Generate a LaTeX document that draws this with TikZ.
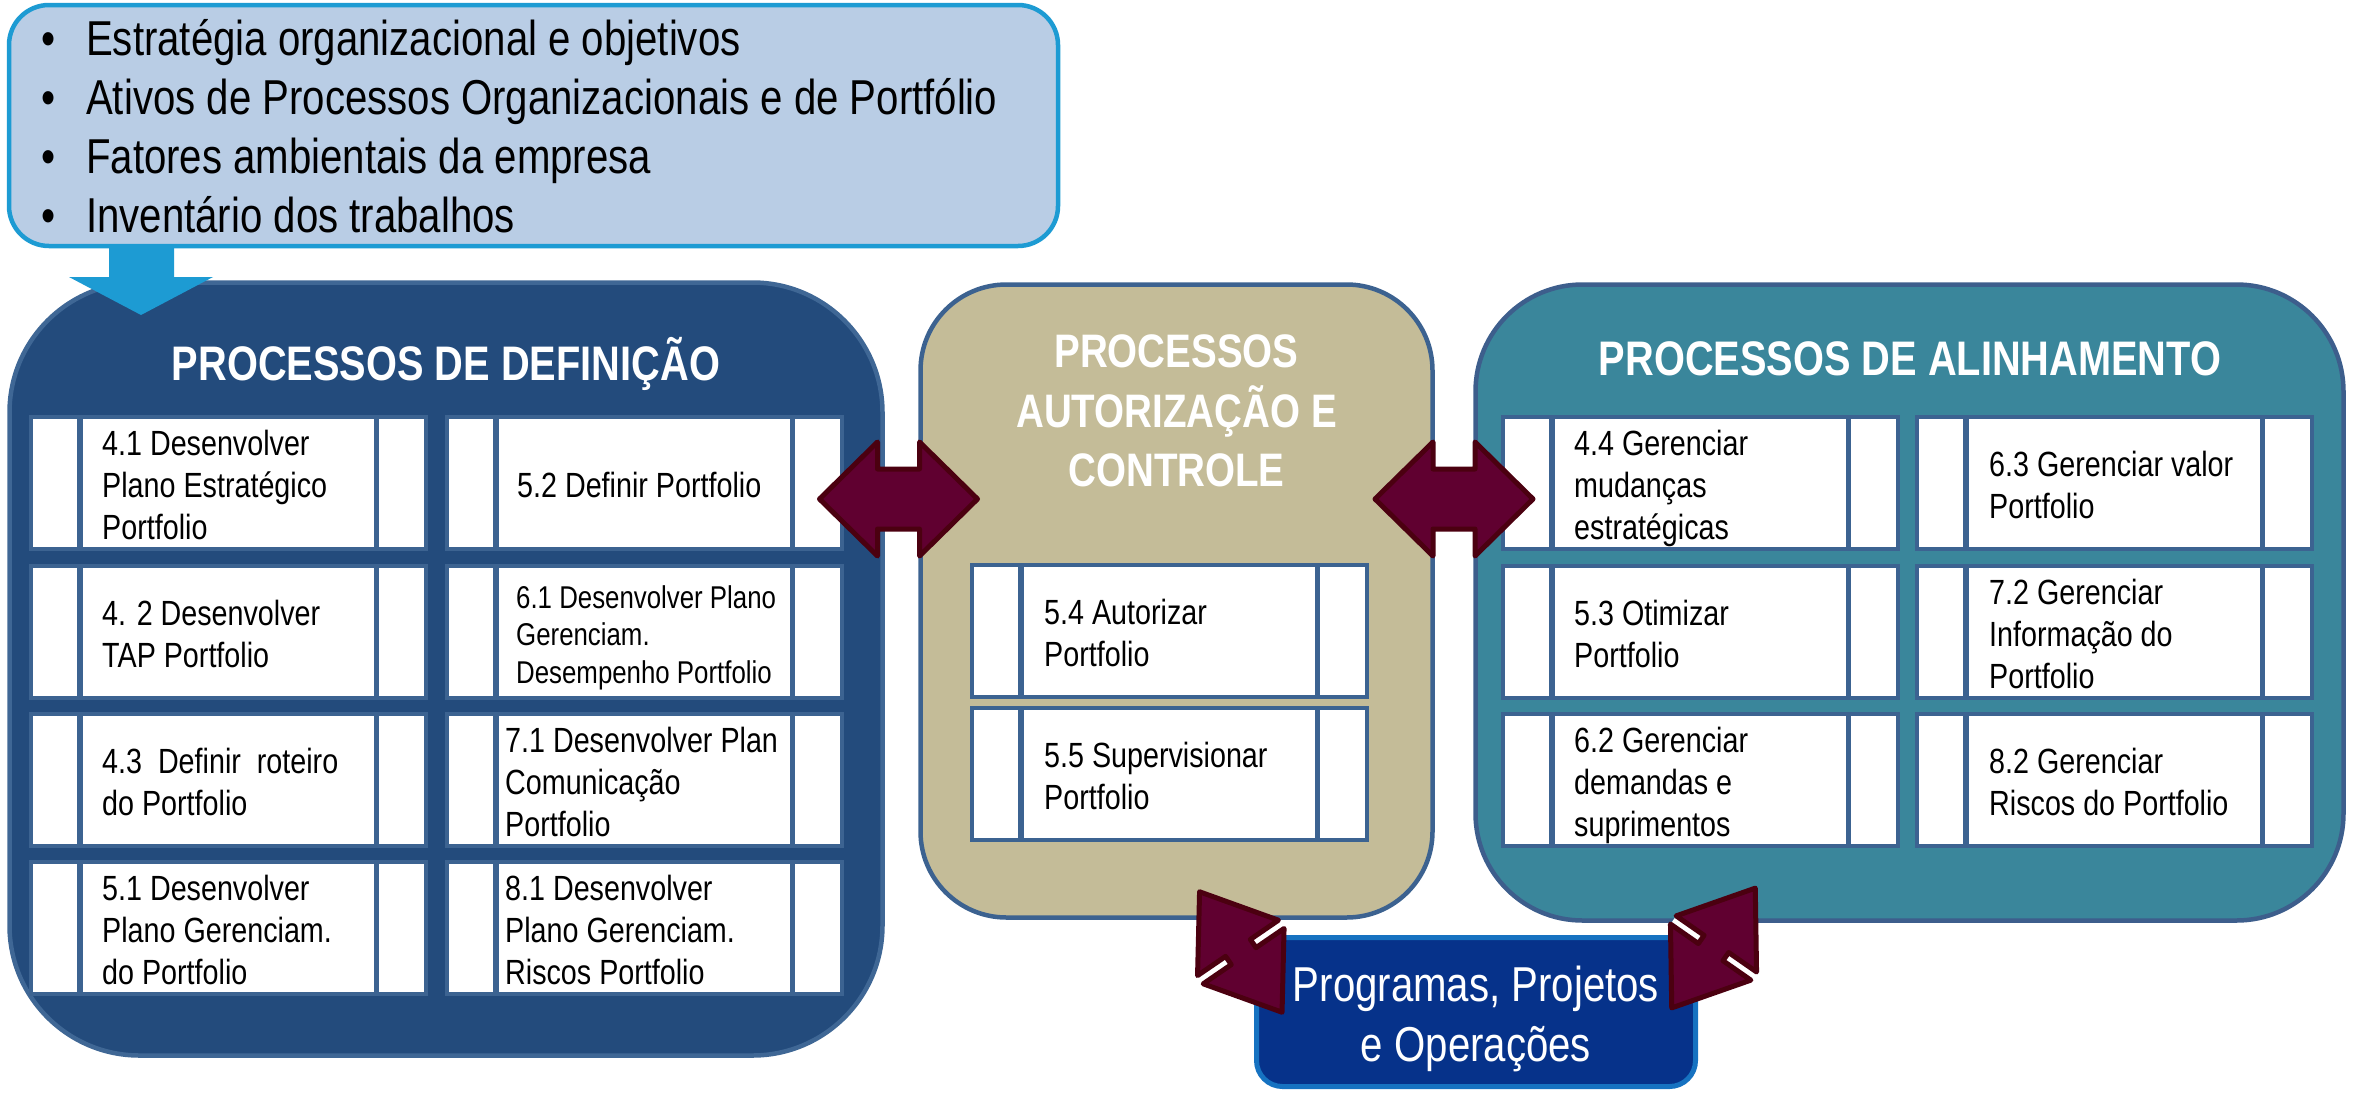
\documentclass[tikz,border=0pt]{standalone}
\usepackage{fontspec}
\setmainfont{Liberation Sans}[FakeStretch=0.82]
\definecolor{topfill}{HTML}{B9CDE5}
\definecolor{topline}{HTML}{1D9BD3}
\definecolor{defill}{HTML}{234B7C}
\definecolor{deline}{HTML}{3F6795}
\definecolor{midfill}{HTML}{C4BC98}
\definecolor{midline}{HTML}{3C6290}
\definecolor{alifill}{HTML}{3A869B}
\definecolor{aliline}{HTML}{3D5E8C}
\definecolor{trayc}{HTML}{3C6391}
\definecolor{arrfill}{HTML}{600030}
\definecolor{arrline}{HTML}{4B0010}
\definecolor{progfill}{HTML}{06328A}
\definecolor{progline}{HTML}{1672C1}

\tikzset{
  panel/.style={draw, line width=4.5pt, inner sep=0pt, outer sep=0pt},
  tray/.style={fill=trayc, inner sep=0pt, outer sep=0pt, minimum width=399pt, minimum height=136pt},
  wbox/.style={fill=white, inner sep=0pt, outer sep=0pt, minimum height=128pt},
  boxtext/.style={font=\fontsize{35}{42}\selectfont, align=left, inner sep=0pt, text=black},
  ptitle/.style={font=\fontsize{48.5}{59}\bfseries, text=white, inner sep=0pt},
  dblarr/.style={fill=arrfill, draw=arrline, line width=5pt, line join=round},
}

\newcommand{\procbox}[6]{%
  \node[tray, anchor=north west] (#1t) at (#2, #3-4) {};
  \node[wbox, anchor=north west, minimum width=44pt] (#1a) at (#2+4, #3) {};
  \node[wbox, anchor=north west, minimum width=291pt] (#1m) at (#2+54, #3) {};
  \node[wbox, anchor=north west, minimum width=45pt] (#1b) at (#2+350, #3) {};
  \node[boxtext, anchor=west, #6] (#1x) at ([xshift=#4pt, yshift=-6pt]#1m.west) {#5};
}

\newcommand{\dblblk}[8]{%
  \begin{scope}[shift={(#1,#2)}, rotate=#3]
    \ifnum#8=1
      \fill[white] (-#5,#7) rectangle (#5,#6);
      \fill[white] (-#5,-#7) rectangle (#5,-#6);
    \fi
    \draw[dblarr] (-#4,0) -- (-#5,-#6) -- (-#5,-#7) -- (#5,-#7) -- (#5,-#6) -- (#4,0)
      -- (#5,#6) -- (#5,#7) -- (-#5,#7) -- (-#5,#6) -- cycle;
  \end{scope}}

\begin{document}
\begin{tikzpicture}[x=1pt,y=-1pt]
\useasboundingbox (0,0) rectangle (2353,1093);

% panels
\node[panel, fill=defill, draw=deline, rounded corners=130pt,
      minimum width=873pt, minimum height=773pt] (def) at (446,669) {};
\node[panel, fill=midfill, draw=midline, rounded corners=86pt,
      minimum width=512pt, minimum height=633pt] (aut) at (1176.5,601) {};
\node[panel, fill=alifill, draw=aliline, rounded corners=107pt,
      minimum width=868pt, minimum height=636pt] (ali) at (1909.5,602.5) {};

% titles
\node[ptitle, anchor=base] (deft) at (446,380) {PROCESSOS DE DEFINIÇÃO};
\node[ptitle, anchor=base] (alit) at (1910,375) {PROCESSOS DE ALINHAMENTO};
\node[ptitle, font=\fontsize{47}{59}\bfseries, align=center] (autt) at (1176.5,415.2)
  {\strut PROCESSOS\\AUTORIZAÇÃO E\\CONTROLE\strut};

% process boxes: definition
\procbox{b41}{29}{419}{19}{\strut 4.1 Desenvolver\\Plano Estratégico\\Portfolio\strut}{}
\procbox{b42}{29}{568}{19}{\strut 4. 2 Desenvolver\\TAP Portfolio\strut}{}
\procbox{b43}{29}{716}{19}{\strut 4.3\ \ Definir\ \ roteiro\\do Portfolio\strut}{}
\procbox{b51}{29}{864}{19}{\strut 5.1 Desenvolver\\Plano Gerenciam.\\do Portfolio\strut}{}
\procbox{b52}{445}{419}{18}{\strut 5.2 Definir Portfolio\strut}{}
\procbox{b61}{445}{568}{17}{\strut 6.1 Desenvolver Plano\\Gerenciam.\\Desempenho Portfolio\strut}{font=\fontsize{31.5}{37.5}\selectfont}
\procbox{b71}{445}{716}{6}{\strut 7.1 Desenvolver Plan\\Comunicação\\Portfolio\strut}{}
\procbox{b81}{445}{864}{6}{\strut 8.1 Desenvolver\\Plano Gerenciam.\\Riscos Portfolio\strut}{}
% authorization
\procbox{b54}{970}{567}{20}{\strut 5.4 Autorizar\\Portfolio\strut}{}
\procbox{b55}{970}{710}{20}{\strut 5.5 Supervisionar\\Portfolio\strut}{}
% alignment
\procbox{b44}{1501}{419}{19}{\strut 4.4 Gerenciar\\mudanças\\estratégicas\strut}{}
\procbox{b53}{1501}{568}{19}{\strut 5.3 Otimizar\\Portfolio\strut}{}
\procbox{b62}{1501}{716}{19}{\strut 6.2 Gerenciar\\demandas e\\suprimentos\strut}{}
\procbox{b63}{1915}{419}{20}{\strut 6.3 Gerenciar valor\\Portfolio\strut}{}
\procbox{b72}{1915}{568}{20}{\strut 7.2 Gerenciar\\Informação do\\Portfolio\strut}{}
\procbox{b82}{1915}{716}{20}{\strut 8.2 Gerenciar\\Riscos do Portfolio\strut}{}

% inputs box
\node[panel, fill=topfill, draw=topline, rounded corners=40pt,
      minimum width=1049pt, minimum height=241pt] (inp) at (533.5,125.5) {};
\node[font=\fontsize{49}{58.7}\selectfont, align=left, inner sep=0pt, anchor=west] (inpx) at (41,132.3)
  {\strut\makebox[45pt][l]{•}Estratégia organizacional e objetivos\\
   \makebox[45pt][l]{•}Ativos de Processos Organizacionais e de Portfólio\\
   \makebox[45pt][l]{•}Fatores ambientais da empresa\\
   \makebox[45pt][l]{•}Inventário dos trabalhos\strut};

% cyan arrow from inputs to definition panel
\fill[topline] (109,246) -- (174,246) -- (174,277) -- (213,277) -- (141,315)
  -- (69,277) -- (109,277) -- cycle;

% programs box
\node[panel, fill=progfill, draw=progline, line width=5pt, rounded corners=26pt,
      minimum width=439pt, minimum height=149pt] (prog) at (1476,1012) {};
\node[font=\fontsize{49}{60}\selectfont, text=white, align=center, inner sep=0pt] (progx) at (1476,1019.7)
  {\strut Programas, Projetos\\e Operações\strut};

% double block arrows
\dblblk{898.5}{499}{0}{79}{21}{57}{30}{0}
\dblblk{1454}{499}{0}{79}{21}{57}{30}{0}
\dblblk{1240.8}{952}{-55.6}{73}{5}{49}{15}{1}
\dblblk{1713.5}{948}{55.1}{73}{5}{49}{15}{1}
\end{tikzpicture}
\end{document}
